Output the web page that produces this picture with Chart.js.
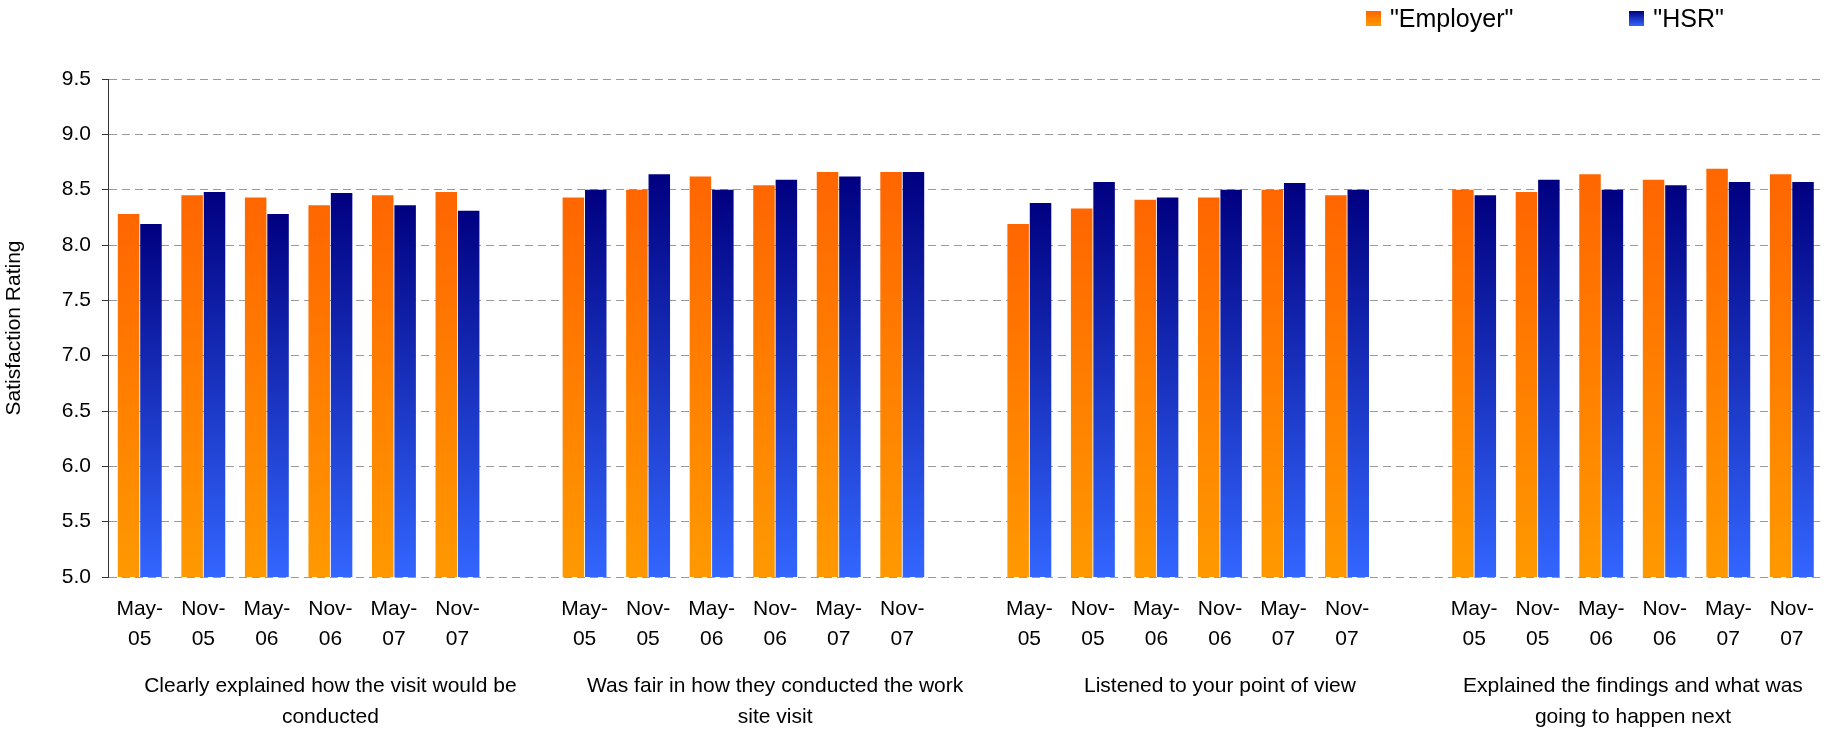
<!DOCTYPE html>
<html>
<head>
<meta charset="utf-8">
<script src="https://cdn.jsdelivr.net/npm/chart.js@4"></script>
<style>
  html, body { margin: 0; padding: 0; background: #fff; overflow: hidden; }
  #wrap { position: relative; width: 1831px; height: 732px; }
  #legend { position: absolute; left: 1366px; top: 3px; display: flex; font: 25px Arial, "Liberation Sans", sans-serif; color: #000; }
  #legend .item { display: flex; align-items: center; margin-right: 116px; line-height: 30px; }
  #legend .swatch { width: 15px; height: 15px; margin-right: 9px; }
</style>
</head>
<body>
<div id="wrap">
  <canvas id="chart"></canvas>
  <div id="legend"></div>
</div>
<script>
const periods = ['May-05', 'Nov-05', 'May-06', 'Nov-06', 'May-07', 'Nov-07'];
const groups = [
  ['Clearly explained how the visit would be', 'conducted'],
  ['Was fair in how they conducted the work', 'site visit'],
  ['Listened to your point of view'],
  ['Explained the findings and what was', 'going to happen next'],
];
const employer = [
  [8.28, 8.45, 8.43, 8.36, 8.45, 8.48],
  [8.43, 8.50, 8.62, 8.54, 8.66, 8.66],
  [8.19, 8.33, 8.41, 8.43, 8.50, 8.45],
  [8.50, 8.48, 8.64, 8.59, 8.69, 8.64],
];
const hsr = [
  [8.19, 8.48, 8.28, 8.47, 8.36, 8.31],
  [8.50, 8.64, 8.50, 8.59, 8.62, 8.66],
  [8.38, 8.57, 8.43, 8.50, 8.56, 8.50],
  [8.45, 8.59, 8.50, 8.54, 8.57, 8.57],
];
const yTicks = [5.0, 5.5, 6.0, 6.5, 7.0, 7.5, 8.0, 8.5, 9.0, 9.5];

const employerColors = ['#FF6600', '#FF9900'];
const hsrColors = ['#000080', '#3366FF'];
const font = 'Arial, "Liberation Sans", sans-serif';

// one blank category between question groups
const labels = [];
const employerData = [];
const hsrData = [];
groups.forEach((g, gi) => {
  if (gi > 0) { labels.push(''); employerData.push(null); hsrData.push(null); }
  periods.forEach((p, pi) => {
    labels.push(p);
    employerData.push(employer[gi][pi]);
    hsrData.push(hsr[gi][pi]);
  });
});
// group captions sit under each 7-slot block, the last one pulled in to fit
const groupCenters = groups.map((g, i) => Math.min(i * 7 + 3, labels.length - 3.5));
const groupMin = -0.5;
const groupMax = labels.length - 0.5;

function barGradient(c, colors) {
  const chart = c.chart;
  if (c.type !== 'data' || c.raw == null || !chart.chartArea) return colors[0];
  const y = chart.scales.y;
  const g = chart.ctx.createLinearGradient(0, y.getPixelForValue(c.raw), 0, y.getPixelForValue(y.min));
  g.addColorStop(0, colors[0]);
  g.addColorStop(1, colors[1]);
  return g;
}

const htmlLegend = {
  id: 'htmlLegend',
  afterUpdate(chart) {
    const box = document.getElementById('legend');
    box.innerHTML = '';
    chart.data.datasets.forEach((ds) => {
      const item = document.createElement('div');
      item.className = 'item';
      const sw = document.createElement('span');
      sw.className = 'swatch';
      sw.style.background = `linear-gradient(${ds.swatch[0]}, ${ds.swatch[1]})`;
      const txt = document.createElement('span');
      txt.textContent = ds.label;
      item.appendChild(sw);
      item.appendChild(txt);
      box.appendChild(item);
    });
  },
};

new Chart(document.getElementById('chart'), {
  type: 'bar',
  data: {
    labels,
    datasets: [
      { label: '"Employer"', data: employerData, swatch: employerColors, backgroundColor: (c) => barGradient(c, employerColors) },
      { label: '"HSR"', data: hsrData, swatch: hsrColors, backgroundColor: (c) => barGradient(c, hsrColors) },
    ],
  },
  options: {
    responsive: true,
    maintainAspectRatio: false,
    animation: false,
    categoryPercentage: 0.705,
    barPercentage: 0.96,
    layout: { padding: { top: 79, right: 0, left: 0, bottom: 0 } },
    plugins: { legend: { display: false }, tooltip: { enabled: false } },
    scales: {
      x: {
        grid: { display: false, drawTicks: false },
        border: { display: false },
        ticks: {
          color: '#000', font: { family: font, size: 21, lineHeight: '30px' },
          padding: 17, maxRotation: 0, autoSkip: false,
          callback(value) {
            const l = this.getLabelForValue(value);
            if (!l) return '';
            const [m, yr] = l.split('-');
            return [m + '-', yr];
          },
        },
      },
      groups: {
        type: 'linear',
        axis: 'x',
        position: 'bottom',
        offset: false,
        min: groupMin,
        max: groupMax,
        grid: { display: false, drawTicks: false, offset: false },
        border: { display: false },
        // empty end ticks keep the long captions from shrinking this axis
        afterBuildTicks: (axis) => {
          axis.ticks = [groupMin, ...groupCenters, groupMax].map((v) => ({ value: v }));
        },
        ticks: {
          color: '#000', font: { family: font, size: 21, lineHeight: '30.5px' },
          padding: 0, maxRotation: 0, autoSkip: false,
          callback: (value) => groups[groupCenters.indexOf(value)] || '',
        },
      },
      y: {
        min: 5,
        max: 9.5,
        afterBuildTicks: (axis) => { axis.ticks = yTicks.map((v) => ({ value: v })); },
        afterFit: (axis) => { axis.width = 108; },
        border: { display: true, color: '#333', width: 1, dash: [8, 5] },
        grid: { color: '#9a9a9a', lineWidth: 1, tickLength: 6, tickColor: '#333', tickBorderDash: [] },
        ticks: {
          color: '#000', font: { family: font, size: 21 }, padding: 11,
          callback: (v) => Number(v).toFixed(1),
        },
        title: {
          display: true, text: 'Satisfaction Rating', color: '#000',
          font: { family: font, size: 21 }, padding: { top: 2, bottom: 0 },
        },
      },
    },
  },
  plugins: [htmlLegend],
});
</script>
</body>
</html>
